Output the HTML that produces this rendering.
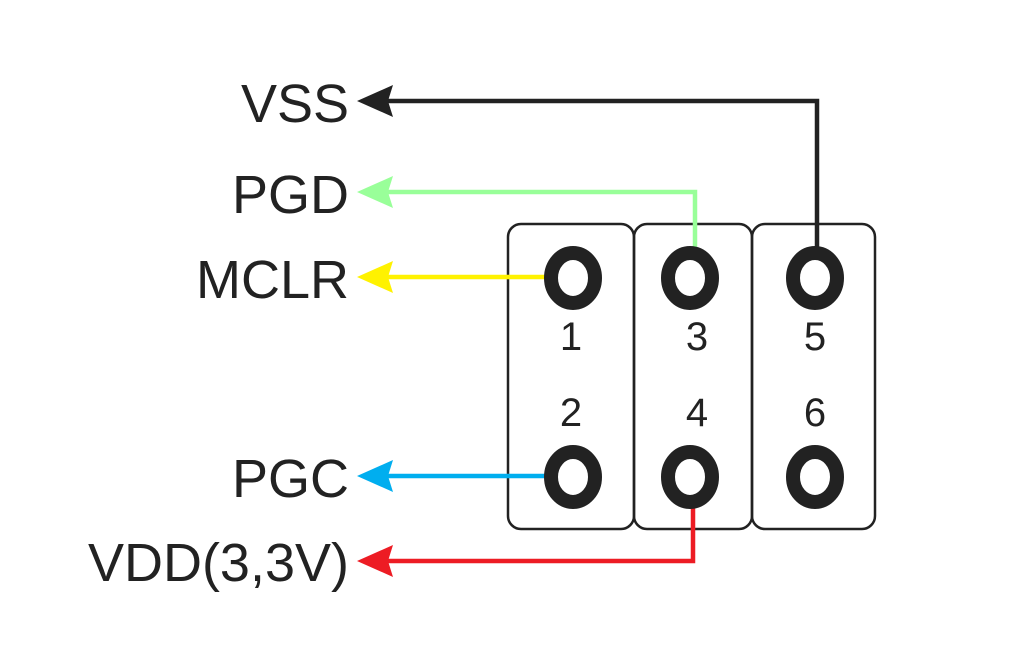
<!DOCTYPE html>
<html><head><style>html,body{margin:0;padding:0;background:#fff}</style></head>
<body>
<svg width="1024" height="665" viewBox="0 0 1024 665" xmlns="http://www.w3.org/2000/svg">
<defs>
<path id="ah" d="M0,0 L36,-16 L31,0 L36,16 Z"/>
</defs>
<g fill="none" stroke="#222" stroke-width="2.5">
<rect x="508" y="224" width="126" height="305" rx="13"/>
<rect x="634" y="224" width="118" height="305" rx="13"/>
<rect x="752" y="224" width="123" height="305" rx="13"/>
</g>
<g fill="none" stroke-width="4.5">
<polyline points="385,101 817,101 817,250" stroke="#222"/>
<polyline points="385,192 695,192 695,248" stroke="#99ff99"/>
<polyline points="385,277 548,277" stroke="#fff200"/>
<polyline points="385,476 548,476" stroke="#00aeef"/>
<polyline points="385,561 693,561 693,505" stroke="#ed1c24"/>
</g>
<use href="#ah" x="357" y="101" fill="#222"/>
<use href="#ah" x="357" y="192" fill="#99ff99"/>
<use href="#ah" x="357" y="277" fill="#fff200"/>
<use href="#ah" x="357" y="476" fill="#00aeef"/>
<use href="#ah" x="357" y="561" fill="#ed1c24"/>
<g fill="none" stroke="#222" stroke-width="14">
<ellipse cx="573" cy="278" rx="22" ry="25"/>
<ellipse cx="690" cy="278" rx="22" ry="25"/>
<ellipse cx="815" cy="278" rx="22" ry="25"/>
<ellipse cx="573" cy="477" rx="22" ry="25"/>
<ellipse cx="690" cy="477" rx="22" ry="25"/>
<ellipse cx="815" cy="477" rx="22" ry="25"/>
</g>
<g font-family="Liberation Sans, sans-serif" fill="#222" font-size="54" text-anchor="end">
<text x="349" y="122">VSS</text>
<text x="349" y="213">PGD</text>
<text x="349" y="298">MCLR</text>
<text x="349" y="497">PGC</text>
<text x="349" y="581">VDD(3,3V)</text>
</g>
<g font-family="Liberation Sans, sans-serif" fill="#222" font-size="40" text-anchor="middle">
<text x="571" y="350">1</text>
<text x="697" y="350">3</text>
<text x="815" y="350">5</text>
<text x="571" y="426">2</text>
<text x="697" y="426">4</text>
<text x="815" y="426">6</text>
</g>
</svg>
</body></html>
